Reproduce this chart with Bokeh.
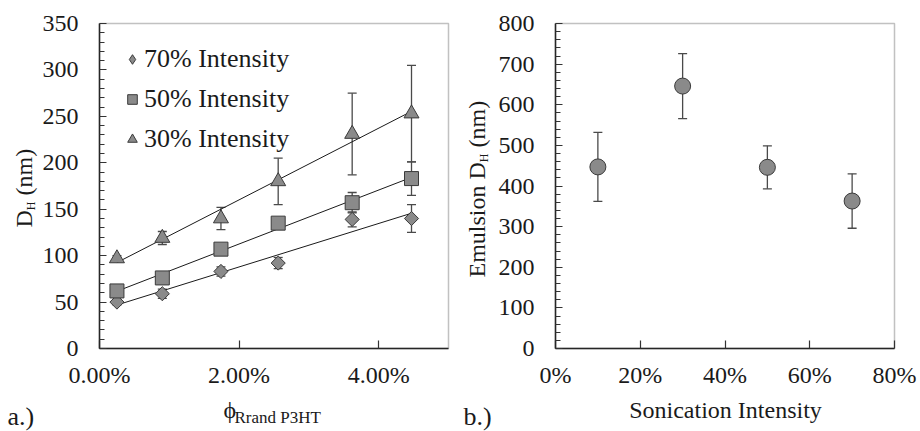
import numpy as np
from bokeh.plotting import figure
from bokeh.models import (ColumnDataSource, Whisker, TeeHead, Label, Legend, LegendItem,
                          FixedTicker, NumeralTickFormatter, BasicTickFormatter, Range1d,
                          LinearAxis, BoxAnnotation)
from bokeh.layouts import row
from bokeh.embed import file_html
from bokeh.resources import INLINE

# ---------------- data: panel a ----------------
phi = [0.0025, 0.0090, 0.0174, 0.0256, 0.0362, 0.0447]
d70 = [50, 59, 83, 92, 139, 140]
e70 = [3, 5, 5, 6, 8, 15]
d50 = [62, 76, 107, 135, 157, 183]
e50 = [3, 3, 3, 3, 11, 18]
d30 = [97, 119, 140, 180, 231, 253]
e30 = [3, 7, 12, 25, 44, 52]
series_labels = ["70% Intensity", "50% Intensity", "30% Intensity"]
a_xticks = [0.0, 0.02, 0.04]
a_yticks = [0, 50, 100, 150, 200, 250, 300, 350]

# ---------------- data: panel b ----------------
intensity = [0.10, 0.30, 0.50, 0.70]
emul = [447, 646, 446, 363]
emul_err = [85, 80, 53, 67]
b_xticks = [0.0, 0.2, 0.4, 0.6, 0.8]
b_yticks = [0, 100, 200, 300, 400, 500, 600, 700, 800]

FONT = "Liberation Serif"
TXT = "#1a1a1a"
FILL = "#8a8a8a"
EDGE = "#3a3a3a"
ERR = "#4a4a4a"
W, H = 460, 431
BASE_K = 0.36   # empirical shift between requested and drawn alphabetic baseline (in em)


def panel(xmax, ymax, box):
    """Figure whose frame is the whole canvas; the plot box (px) maps to [0,xmax]x[0,ymax]."""
    L, R, T, B = box
    sx = xmax / (R - L)
    sy = ymax / (B - T)
    p = figure(width=W, height=H, title=None,
               x_range=Range1d(-L * sx, xmax + (W - R) * sx),
               y_range=Range1d(-(H - B) * sy, ymax + T * sy),
               x_axis_location=None, y_axis_location=None,
               output_backend="svg", toolbar_location=None, min_border=0)
    p.outline_line_color = None
    p.xgrid.visible = False
    p.ygrid.visible = False
    p.background_fill_color = "white"
    p.border_fill_color = "white"
    return p


def axes(p, xmax, ymax, xticks, xfmt, yticks, yminor):
    common = dict(axis_line_color="#222222", axis_line_width=1.5,
                  major_tick_line_color="#333333", major_tick_line_width=1.2,
                  minor_tick_line_color="#333333", minor_tick_line_width=1.2,
                  major_tick_out=0, minor_tick_out=0,
                  major_label_text_font=FONT, major_label_text_font_size="24px",
                  major_label_text_color=TXT)
    xa = LinearAxis(fixed_location=0, bounds=(0, xmax),
                    ticker=FixedTicker(ticks=xticks, minor_ticks=[]),
                    formatter=NumeralTickFormatter(format=xfmt),
                    major_tick_in=8, major_label_standoff=13, **common)
    ya = LinearAxis(fixed_location=0, bounds=(0, ymax),
                    ticker=FixedTicker(ticks=yticks, minor_ticks=yminor),
                    formatter=BasicTickFormatter(),
                    major_tick_in=7, minor_tick_in=5, major_label_standoff=21, **common)
    p.add_layout(xa, "below")
    p.add_layout(ya, "left")
    p.add_layout(BoxAnnotation(left=0, right=xmax, bottom=0, top=ymax, fill_alpha=0,
                               line_color="#333333", line_width=1.5))


def add_err(p, x, y, e):
    src = ColumnDataSource(dict(x=x, lo=[a - b for a, b in zip(y, e)], hi=[a + b for a, b in zip(y, e)]))
    w = Whisker(source=src, base="x", lower="lo", upper="hi", line_color=ERR, line_width=1.3,
                upper_head=TeeHead(size=9, line_color=ERR, line_width=1.3),
                lower_head=TeeHead(size=9, line_color=ERR, line_width=1.3))
    p.add_layout(w)


def lbl(p, cx, cy, text, size=24, rotated=False, align="left"):
    # (cx, cy): baseline start on this panel, in px from its top-left corner
    k = BASE_K * size
    if rotated:
        x, y, angle = cx - k, H - cy, np.pi / 2
    else:
        x, y, angle = cx, H - cy + k, 0.0
    p.add_layout(Label(x=x, y=y, x_units="screen", y_units="screen", text=text,
                       text_font=FONT, text_font_size=f"{size}px", text_color=TXT,
                       angle=angle, text_align=align, text_baseline="alphabetic"))


# ---------------- panel a ----------------
p1 = panel(0.05, 350, (99, 448, 23, 348))
axes(p1, 0.05, 350, a_xticks, "0.00%", a_yticks,
     [v for v in range(0, 351, 10) if v % 50])

renderers = []
for ys, es, mk, sz, ang, lmk in ((d70, e70, "square", 10, np.pi / 4, "diamond"),
                                 (d50, e50, "square", 14, 0.0, "square"),
                                 (d30, e30, "triangle", 15, 0.0, "triangle")):
    add_err(p1, phi, ys, es)
    fit = np.polyfit(phi, ys, 1)
    xs = [phi[0], phi[-1]]
    p1.line(xs, list(np.polyval(fit, xs)), line_color="#1a1a1a", line_width=1)
    p1.scatter(phi, ys, marker=mk, size=sz, angle=ang, fill_color=FILL,
               line_color=EDGE, line_width=1)
    proxy = p1.scatter(phi, ys, marker=lmk, size=sz, fill_color=FILL,
                       line_color=EDGE, line_width=1, visible=False)
    renderers.append(proxy)

legend = Legend(items=[LegendItem(label=t, renderers=[r]) for t, r in zip(series_labels, renderers)],
                location=(120, 277), orientation="vertical",
                background_fill_alpha=0, border_line_color=None, padding=0, margin=0,
                spacing=10, glyph_width=24, glyph_height=24, label_height=30, label_standoff=0,
                label_text_font=FONT, label_text_font_size="26px", label_text_color=TXT)
p1.add_layout(legend)

lbl(p1, 32, 227, "D", rotated=True)
lbl(p1, 35, 209.7, "H", size=12, rotated=True)
lbl(p1, 32, 195, "(nm)", rotated=True)
lbl(p1, 223, 418, "\u03d5")
lbl(p1, 234, 423, "Rrand P3HT", size=17)
lbl(p1, 7, 425, "a.)", size=26)

# ---------------- panel b ----------------
p2 = panel(0.8, 800, (95, 434, 23, 348))
axes(p2, 0.8, 800, b_xticks, "0%", b_yticks,
     [v for v in range(0, 801, 20) if v % 100])
add_err(p2, intensity, emul, emul_err)
p2.scatter(intensity, emul, marker="circle", size=16, fill_color=FILL, line_color=EDGE, line_width=1)

lbl(p2, 25, 277, "Emulsion D", rotated=True)
lbl(p2, 28, 161.7, "H", size=12, rotated=True)
lbl(p2, 25, 147, "(nm)", rotated=True)
lbl(p2, 265, 418, "Sonication Intensity", align="center")
lbl(p2, 3, 425, "b.)", size=26)

layout = row(p1, p2, spacing=0)
open("out.html", "w").write(file_html(layout, INLINE))
